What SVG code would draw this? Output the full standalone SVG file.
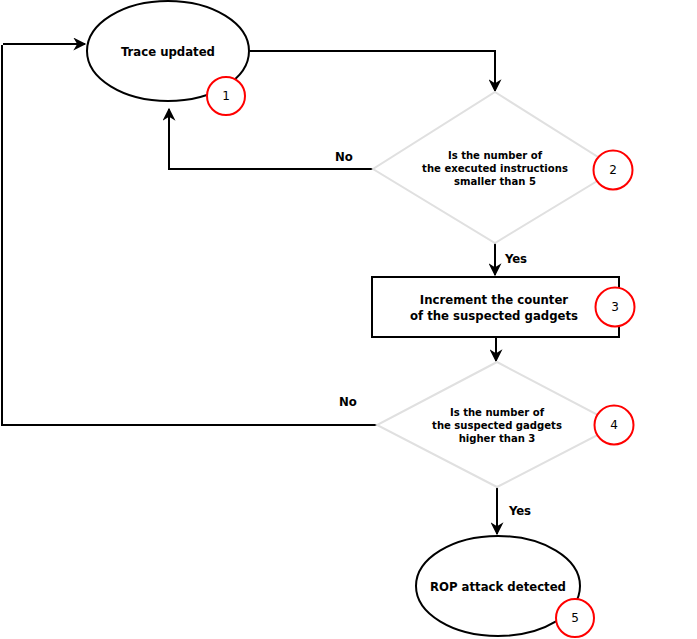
<svg xmlns="http://www.w3.org/2000/svg" width="697" height="639" viewBox="0 0 697 639">
<style>
.bg{fill:#fff}
.shape{fill:#fff;stroke:#000;stroke-width:2}
.dia{fill:#fff;stroke:#e0e0e0;stroke-width:2}
.badge{fill:#fff;stroke:#f00;stroke-width:2}
.lbl{font-family:"DejaVu Sans Condensed","DejaVu Sans",Verdana,sans-serif;font-weight:bold;font-size:13px;fill:#000;text-anchor:middle}
.dlbl{font-family:"DejaVu Sans Condensed","DejaVu Sans",Verdana,sans-serif;font-weight:bold;font-size:11.2px;fill:#000;text-anchor:middle}
.num{font-family:"DejaVu Sans",Verdana,sans-serif;font-size:12px;fill:#000;text-anchor:middle}
.edge{fill:none;stroke:#000;stroke-width:2}
</style>
<defs>
<marker id="arr" viewBox="0 0 10 10" refX="9" refY="5" markerWidth="14" markerHeight="13" orient="auto" markerUnits="userSpaceOnUse">
<path d="M0,0 L10,5 L0,10 L3,5 Z" fill="#000"/>
</marker>
</defs>
<rect class="bg" x="0" y="0" width="697" height="639"/>
<g id="connectors">
<path class="edge" d="M250,51 H495 V91" marker-end="url(#arr)"/>
<path class="edge" d="M373,169 H169 V109" marker-end="url(#arr)"/>
<path class="edge" d="M495,243 V275" marker-end="url(#arr)"/>
<path class="edge" d="M496,337 V361" marker-end="url(#arr)"/>
<path class="edge" d="M377,425 H2 V45"/>
<path class="edge" d="M3,44 H85" marker-end="url(#arr)"/>
<path class="edge" d="M497,487 V534" marker-end="url(#arr)"/>
<text class="lbl" x="344" y="161">No</text>
<text class="lbl" x="516" y="263">Yes</text>
<text class="lbl" x="348" y="406">No</text>
<text class="lbl" x="520" y="515">Yes</text>
</g>
<g id="node1">
<ellipse class="shape" cx="168" cy="51" rx="81" ry="50"/>
<text class="lbl" x="168" y="56">Trace updated</text>
<circle class="badge" cx="226" cy="96" r="19"/>
<text class="num" x="226" y="100">1</text>
</g>
<g id="node2">
<polygon class="dia" points="495,92 617,169 495,243 373,169"/>
<text class="dlbl" x="495" y="159">Is the number of</text>
<text class="dlbl" x="495" y="172">the executed instructions</text>
<text class="dlbl" x="495" y="185">smaller than 5</text>
<circle class="badge" cx="613" cy="170" r="19.5"/>
<text class="num" x="613" y="174">2</text>
</g>
<g id="node3">
<rect class="shape" x="372" y="277" width="247" height="60"/>
<text class="lbl" x="494" y="304">Increment the counter</text>
<text class="lbl" x="494" y="320">of the suspected gadgets</text>
<circle class="badge" cx="615" cy="307" r="19.5"/>
<text class="num" x="615" y="311">3</text>
</g>
<g id="node4">
<polygon class="dia" points="497,362 617,425 497,487 377,425"/>
<text class="dlbl" x="497" y="416">Is the number of</text>
<text class="dlbl" x="497" y="429">the suspected gadgets</text>
<text class="dlbl" x="497" y="442">higher than 3</text>
<circle class="badge" cx="614" cy="425" r="19.5"/>
<text class="num" x="614" y="429">4</text>
</g>
<g id="node5">
<ellipse class="shape" cx="498" cy="586" rx="82" ry="50"/>
<text class="lbl" x="498" y="591">ROP attack detected</text>
<circle class="badge" cx="575" cy="618" r="19"/>
<text class="num" x="575" y="622">5</text>
</g>
</svg>
